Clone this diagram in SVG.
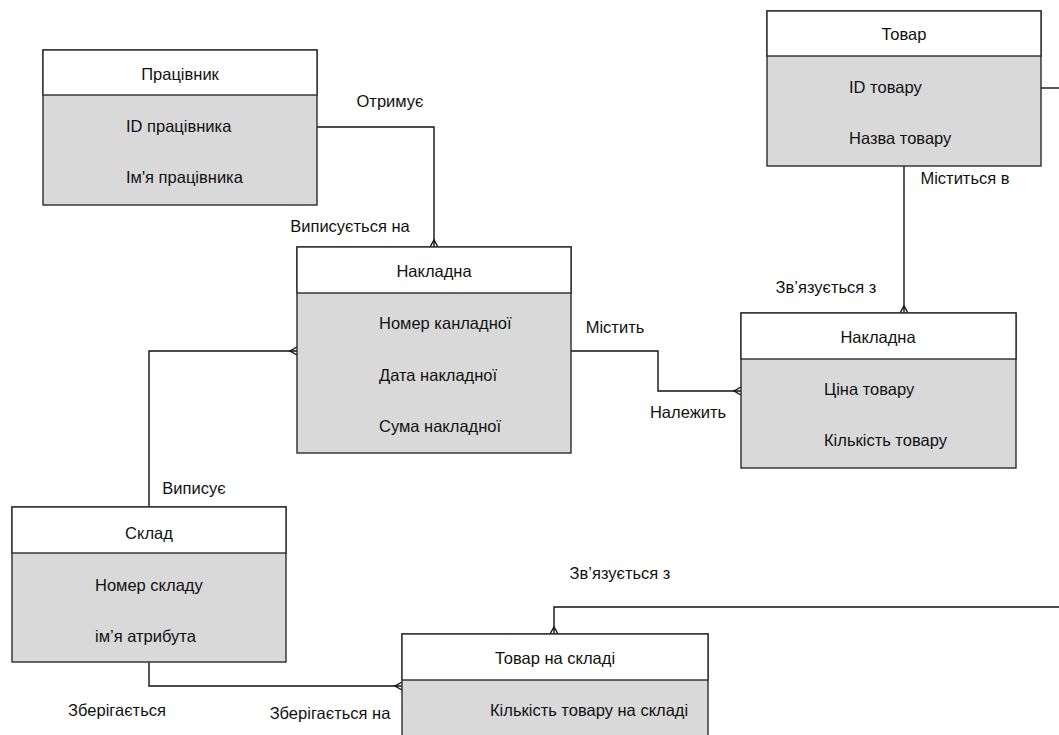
<svg xmlns="http://www.w3.org/2000/svg" width="1059" height="735" viewBox="0 0 1059 735">
<style>
.hd{fill:#ffffff;stroke:#2b2b2b;stroke-width:1.4}
.bd{fill:#d9d9d9;stroke:#2b2b2b;stroke-width:1.4}
text{font-family:"Liberation Sans",Arial,sans-serif;font-size:16.5px;fill:#111}
.c{text-anchor:middle}
.ln{fill:none;stroke:#111;stroke-width:1.4}
</style>
<rect width="1059" height="735" fill="#ffffff"/>
<g id="connectors">
<path class="ln" d="M317,127 H434 V247"/>
<path class="ln" d="M430,247 L434,240 L438,247"/>
<path class="ln" d="M571,351 H658 V391 H741"/>
<path class="ln" d="M741,387 L734,391 L741,395"/>
<path class="ln" d="M149,507 V351 H297"/>
<path class="ln" d="M297,347 L290,351 L297,355"/>
<path class="ln" d="M904,166 V313"/>
<path class="ln" d="M900,313 L904,306 L908,313"/>
<path class="ln" d="M1041,88 H1059"/>
<path class="ln" d="M149,662 V686 H402"/>
<path class="ln" d="M402,682 L395,686 L402,690"/>
<path class="ln" d="M1059,607 H554 V634"/>
<path class="ln" d="M550,634 L554,627 L558,634"/>
<text class="c" x="390" y="107">Отримує</text>
<text class="c" x="350" y="232">Виписується на</text>
<text class="c" x="615" y="333">Містить</text>
<text class="c" x="688" y="418">Належить</text>
<text class="c" x="965" y="184">Міститься в</text>
<text class="c" x="826" y="293">Зв’язується з</text>
<text class="c" x="194" y="494">Виписує</text>
<text class="c" x="117" y="716">Зберігається</text>
<text class="c" x="330" y="719">Зберігається на</text>
<text class="c" x="620" y="579">Зв’язується з</text>
</g>
<g id="node-pracivnyk">
<rect class="bd" x="43" y="50" width="274" height="155"/>
<rect class="hd" x="43" y="50" width="274" height="45"/>
<text class="c" x="180" y="80">Працівник</text>
<text x="126" y="132">ID працівника</text>
<text x="126" y="183">Ім'я працівника</text>
</g>
<g id="node-nakladna1">
<rect class="bd" x="297" y="247" width="274" height="206"/>
<rect class="hd" x="297" y="247" width="274" height="46"/>
<text class="c" x="434" y="277">Накладна</text>
<text x="379" y="329">Номер канладної</text>
<text x="379" y="381">Дата накладної</text>
<text x="379" y="432">Сума накладної</text>
</g>
<g id="node-tovar">
<rect class="bd" x="767" y="11" width="274" height="155"/>
<rect class="hd" x="767" y="11" width="274" height="45"/>
<text class="c" x="904" y="40">Товар</text>
<text x="849" y="93">ID товару</text>
<text x="849" y="144">Назва товару</text>
</g>
<g id="node-nakladna2">
<rect class="bd" x="741" y="313" width="275" height="155"/>
<rect class="hd" x="741" y="313" width="275" height="46"/>
<text class="c" x="878" y="343">Накладна</text>
<text x="824" y="395">Ціна товару</text>
<text x="824" y="446">Кількість товару</text>
</g>
<g id="node-sklad">
<rect class="bd" x="12" y="507" width="274" height="155"/>
<rect class="hd" x="12" y="507" width="274" height="46"/>
<text class="c" x="149" y="539">Склад</text>
<text x="95" y="591">Номер складу</text>
<text x="95" y="642">ім’я атрибута</text>
</g>
<g id="node-tovar-na-skladi">
<rect class="bd" x="402" y="634" width="306" height="120"/>
<rect class="hd" x="402" y="634" width="306" height="46"/>
<text class="c" x="555" y="664">Товар на складі</text>
<text x="490" y="716">Кількість товару на складі</text>
</g>
</svg>
